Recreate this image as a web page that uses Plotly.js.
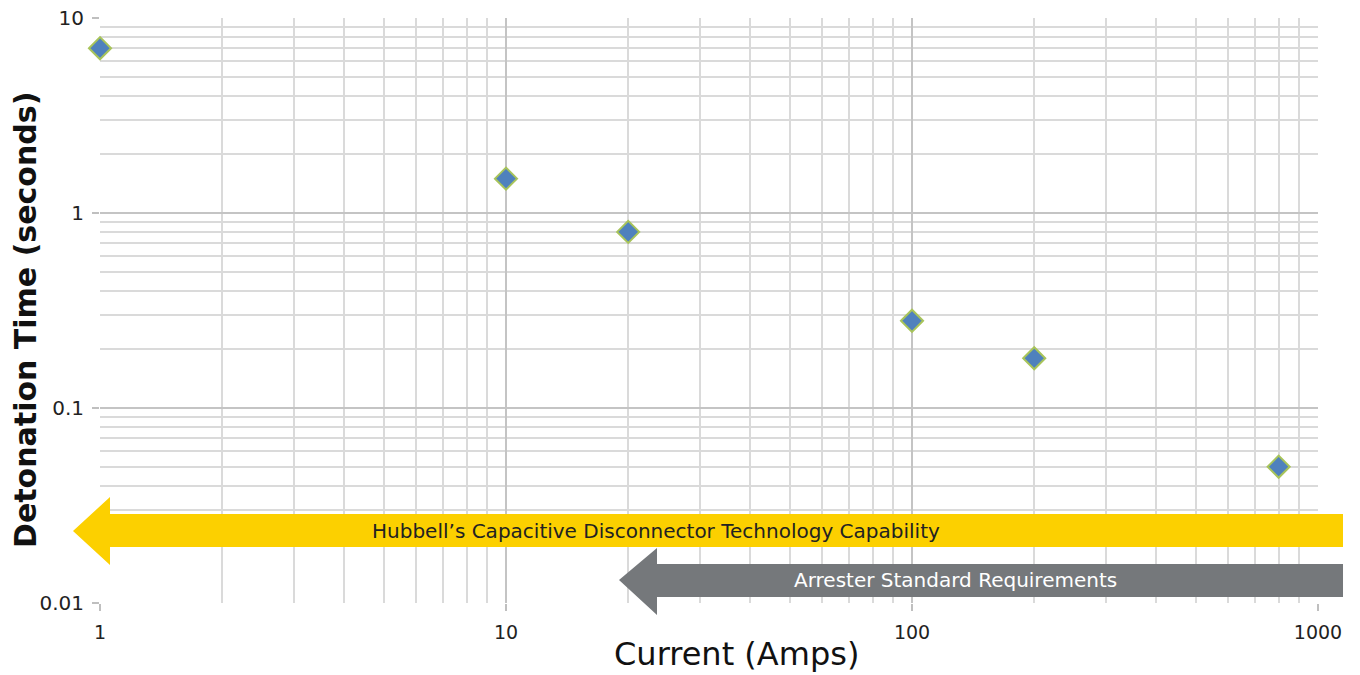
<!DOCTYPE html>
<html>
<head>
<meta charset="utf-8">
<script src="https://cdn.plot.ly/plotly-3.0.1.min.js"></script>
<style>html,body{margin:0;padding:0;background:#fff;}#chart{width:1360px;height:675px;}</style>
</head>
<body>
<div id="chart"></div>
<script>
// Data
const currentAmps = [1, 10, 20, 100, 200, 800];
const detonationSeconds = [7, 1.5, 0.8, 0.28, 0.18, 0.05];
const xTickVals = [1, 10, 100, 1000];
const xTickText = ['1', '10', '100', '1000'];
const yTickVals = [0.01, 0.1, 1, 10];
const yTickText = ['0.01', '0.1', '1', '10'];
const xTitle = 'Current (Amps)';
const yTitle = 'Detonation Time (seconds)';
const yellowLabel = 'Hubbell\u2019s Capacitive Disconnector Technology Capability';
const grayLabel = 'Arrester Standard Requirements';

const FONT = 'DejaVu Sans, Open Sans, sans-serif';

const trace = {
  x: currentAmps,
  y: detonationSeconds,
  type: 'scatter',
  mode: 'markers',
  cliponaxis: false,
  marker: {symbol: 'diamond', size: 17, color: '#4F81BD', line: {color: '#A8C45A', width: 2}},
  hoverinfo: 'x+y'
};

// pixel -> paper helpers (plot area 100..1318 x, 18..603 y)
const L = 100, R = 1318, T = 18, B = 603;
const px = v => (v - L) / (R - L);
const py = v => (B - v) / (B - T);
function arrowPath(tipX, tipY, baseX, headTop, bodyTop, bodyBot, headBot, endX) {
  const pts = [[tipX, tipY], [baseX, headTop], [baseX, bodyTop], [endX, bodyTop], [endX, bodyBot], [baseX, bodyBot], [baseX, headBot]];
  return 'M ' + pts.map(p => px(p[0]).toFixed(5) + ',' + py(p[1]).toFixed(5)).join(' L ') + ' Z';
}

const layout = {
  width: 1360, height: 675,
  margin: {l: 100, r: 42, t: 18, b: 72},
  paper_bgcolor: '#fff', plot_bgcolor: '#fff',
  showlegend: false,
  font: {family: FONT, color: '#1a1a1a'},
  xaxis: {
    type: 'log', range: [0, 3],
    tickvals: xTickVals, ticktext: xTickText,
    tickfont: {size: 19, color: '#222'},
    ticks: 'outside', ticklen: 7, tickcolor: '#bfbfbf', tickwidth: 1.5,
    ticklabelstandoff: 5,
    showgrid: true, gridcolor: '#c4c4c4', gridwidth: 1.5,
    minor: {dtick: 'D1', showgrid: true, gridcolor: '#dadada', gridwidth: 1.5, ticks: ''},
    showline: false, zeroline: false,
    automargin: false
  },
  yaxis: {
    type: 'log', range: [-2, 1],
    tickvals: yTickVals, ticktext: yTickText,
    tickfont: {size: 20, color: '#222'},
    ticks: 'outside', ticklen: 7, tickcolor: '#bfbfbf', tickwidth: 1.5,
    ticklabelstandoff: 4,
    showgrid: true, gridcolor: '#c4c4c4', gridwidth: 1.5,
    minor: {dtick: 'D1', showgrid: true, gridcolor: '#dadada', gridwidth: 1.5, ticks: ''},
    showline: false, zeroline: false,
    automargin: false
  },
  shapes: [
    {type: 'path', xref: 'paper', yref: 'paper', layer: 'above', fillcolor: '#FCD000', line: {width: 0},
     path: arrowPath(73, 531, 110, 497, 514, 547, 565, 1343)},
    {type: 'path', xref: 'paper', yref: 'paper', layer: 'above', fillcolor: '#75787B', line: {width: 0},
     path: arrowPath(619, 580, 657, 548, 564, 597, 615, 1343)}
  ],
  annotations: [
    {xref: 'paper', yref: 'paper', x: px(656), y: py(531), text: yellowLabel, showarrow: false,
     font: {size: 20, color: '#222', family: FONT}, xanchor: 'center', yanchor: 'middle'},
    {xref: 'paper', yref: 'paper', x: px(955), y: py(580), text: grayLabel, showarrow: false,
     font: {size: 20, color: '#fff', family: FONT}, xanchor: 'center', yanchor: 'middle'},
    {xref: 'paper', yref: 'paper', x: px(736), y: py(654), text: xTitle, showarrow: false, borderpad: 0,
     font: {size: 32, color: '#111', family: FONT}, xanchor: 'center', yanchor: 'middle'},
    {xref: 'paper', yref: 'paper', x: px(26), y: py(320), text: '<b>' + yTitle + '</b>', showarrow: false,
     textangle: -90, font: {size: 30, color: '#111', family: FONT}, xanchor: 'center', yanchor: 'middle'}
  ]
};

Plotly.newPlot('chart', [trace], layout, {displayModeBar: false});
</script>
</body>
</html>
